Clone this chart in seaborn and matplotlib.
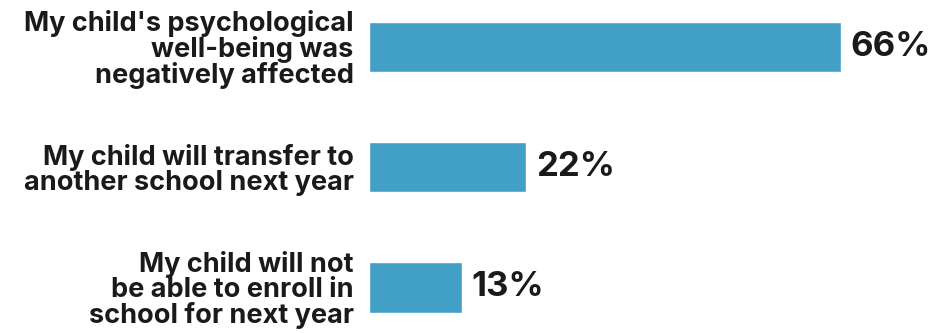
import matplotlib
matplotlib.use("Agg")
import matplotlib.pyplot as plt
import seaborn as sns
import pandas as pd

categories = [
    "My child's psychological\nwell-being was\nnegatively affected",
    "My child will transfer to\nanother school next year",
    "My child will not\nbe able to enroll in\nschool for next year",
]
values = [66, 22, 13]
value_labels = ["66%", "22%", "13%"]

sns.set_theme(style="white")
plt.rcParams["font.family"] = ["Inter", "DejaVu Sans"]

df = pd.DataFrame({"item": categories, "pct": values})

fig = plt.figure(figsize=(9.3, 3.33), dpi=100)
ax = fig.add_axes([369 / 930, 0, 558 / 930, 1])

sns.barplot(data=df, y="item", x="pct", orient="h", color="#42A0C6",
            saturation=1, width=0.42, ax=ax)

ax.set_xlim(0, 78)
ax.set_ylim(2.38, -0.39)
ax.set_xlabel("")
ax.set_ylabel("")
ax.set_xticks([])
ax.tick_params(axis="y", length=0, pad=11)
for lab in ax.get_yticklabels():
    lab.set_fontsize(19.5)
    lab.set_fontweight("bold")
    lab.set_color("#1a1a1a")
    lab.set_linespacing(0.95)
    lab.set_horizontalalignment("right")
    lab.set_multialignment("right")
for s in ax.spines.values():
    s.set_visible(False)

for i, (v, t) in enumerate(zip(values, value_labels)):
    ax.text(v + 1.3, i, t, va="center", ha="left", fontsize=25,
            fontweight="bold", color="#1a1a1a")

fig.savefig("out.png", dpi=100)
